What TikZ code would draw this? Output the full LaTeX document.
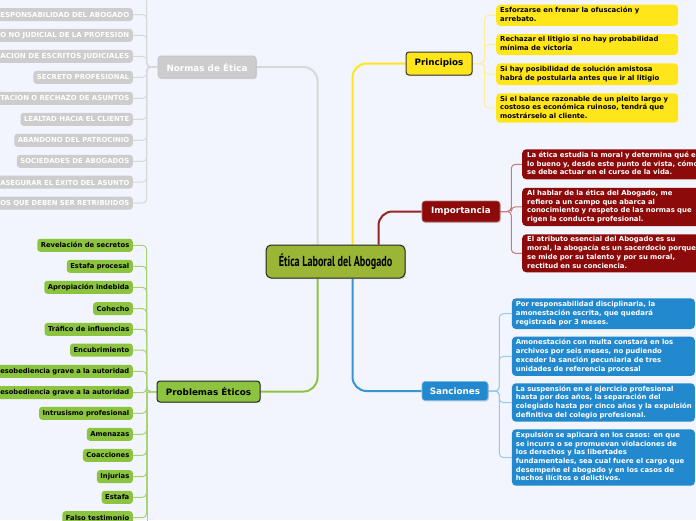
\documentclass[tikz,border=0pt]{standalone}
\usepackage{fontspec}
\usepackage{graphicx}
\usetikzlibrary{shadows}
\setmainfont{DejaVu Sans}
\newfontfamily\titlefont{PT Sans}
\newcommand\mylines[1]{\begin{tabular}{@{}l@{}}#1\end{tabular}}
\newcommand\cutfit[1]{\resizebox{129pt}{\height}{#1}}
\definecolor{bgc}{HTML}{F2F5FD}
\definecolor{greyfill}{HTML}{CDCDCD}
\definecolor{greyline}{HTML}{D8D8D8}
\definecolor{greenfill}{HTML}{8CC43F}
\definecolor{greenline}{HTML}{A9D272}
\definecolor{yelfill}{HTML}{FFE61A}
\definecolor{yelline}{HTML}{FFEE9A}
\definecolor{redfill}{HTML}{8C0A0A}
\definecolor{redline}{HTML}{C77A7A}
\definecolor{bluefill}{HTML}{2389CE}
\definecolor{blueline}{HTML}{9CC8EA}
\definecolor{centralfill}{HTML}{9BB535}
\pgfdeclarelayer{bgl}
\pgfdeclarelayer{lines}
\pgfsetlayers{bgl,lines,main}
\tikzset{
  small/.style={font=\fontsize{6.9}{8.7}\selectfont\bfseries},
  leafbox/.style={rounded corners=3pt, inner ysep=0pt, inner xsep=3.5pt, minimum height=13pt, anchor=east},
  normleaf/.style={leafbox, font=\fontsize{6.9}{8.7}\selectfont\bfseries, fill=greyfill, text=white},
  probleaf/.style={leafbox, font=\fontsize{6.8}{8.7}\selectfont\bfseries, fill=greenfill, text=black},
  cutleaf/.style={text width=152pt, align=right},
  textbox/.style={small, rounded corners=4pt, inner ysep=0pt, inner xsep=4pt, align=left, anchor=west},
  yelleaf/.style={textbox, fill=yelfill, text=black, text width=174pt},
  redleaf/.style={textbox, fill=redfill, text=white, text width=174pt, inner xsep=5pt},
  blueleaf/.style={textbox, fill=bluefill, text=white, text width=175pt},
  mainbox/.style={font=\fontsize{8.8}{10}\selectfont\bfseries, rounded corners=3pt, inner sep=0pt,
     drop shadow={opacity=0.25, shadow xshift=1pt, shadow yshift=-1.2pt}},
  mainline/.style={line width=2pt, rounded corners=14pt},
  childline/.style={line width=1pt, rounded corners=4pt},
}
\begin{document}
\begin{tikzpicture}[x=1pt,y=-1pt]
\useasboundingbox (0,0) rectangle (696,520);
\clip (0,0) rectangle (696,520);
\begin{pgfonlayer}{bgl}
\fill[bgc] (0,0) rectangle (696,520);
\end{pgfonlayer}

% central
\node[draw=black!85, line width=1pt, fill=centralfill, rounded corners=5pt, minimum width=139pt, minimum height=33pt, inner sep=0pt,
      drop shadow={opacity=0.25, shadow xshift=1pt, shadow yshift=-1.2pt}] (c) at (335.5,261.5)
  {\titlefont\bfseries\fontsize{14.5}{16}\selectfont\scalebox{0.7}[1]{Ética Laboral del Abogado}};

% main branches
\node[mainbox, draw=black!80, line width=1pt, fill=yelfill, minimum width=66pt, minimum height=23pt] (pr) at (439,63.5) {Principios};
\node[mainbox, draw=redfill!60, line width=0.6pt, fill=redfill, text=white, minimum width=78pt, minimum height=21pt] (im) at (461,211.5) {Importancia};
\node[mainbox, draw=bluefill!60, line width=0.6pt, fill=bluefill, text=white, minimum width=66pt, minimum height=19pt] (sa) at (455,391) {Sanciones};
\node[mainbox, draw=black!25, line width=0.6pt, fill=greyfill, text=white, minimum width=98pt, minimum height=22pt] (no) at (207,67) {Normas de Ética};
\node[mainbox, draw=black!85, line width=1pt, fill=greenfill, text=black, minimum width=103pt, minimum height=21pt] (pe) at (208.5,391.5) {Problemas Éticos};

\begin{pgfonlayer}{lines}
\coordinate (cg) at ([xshift=52pt]c.north west);
\coordinate (cy) at ([xshift=87pt]c.north west);
\coordinate (cr) at ([xshift=113pt]c.north west);
\coordinate (cb) at ([xshift=87pt]c.south west);
\coordinate (cgr) at ([xshift=52pt]c.south west);
\draw[mainline, greyline] (cg) |- (no.east);
\draw[mainline, yelfill] (cy) |- (pr.west);
\draw[mainline, redfill!90!white] (cr) |- (im.west);
\draw[mainline, bluefill!90!white] (cb) |- (sa.west);
\draw[mainline, greenfill] (cgr) |- (pe.east);
\end{pgfonlayer}

% Normas de Etica leaves
\node[normleaf, minimum width=83pt] (n0) at (133,-7) {};
\node[normleaf, cutleaf] (n1) at (133,14.7) {\cutfit{ESPONSABILIDAD DEL ABOGADO}};
\node[normleaf, cutleaf] (n2) at (133,35.3) {\cutfit{O NO JUDICIAL DE LA PROFESION}};
\node[normleaf, cutleaf] (n3) at (133,56.3) {\cutfit{ACION DE ESCRITOS JUDICIALES}};
\node[normleaf] (n4) at (133,77.3) {SECRETO PROFESIONAL};
\node[normleaf, cutleaf] (n5) at (133,98.3) {\cutfit{TACION O RECHAZO DE ASUNTOS}};
\node[normleaf] (n6) at (133,119.3) {LEALTAD HACIA EL CLIENTE};
\node[normleaf] (n7) at (133,140.3) {ABANDONO DEL PATROCINIO};
\node[normleaf] (n8) at (133,161.3) {SOCIEDADES DE ABOGADOS};
\node[normleaf, cutleaf] (n9) at (133,182) {\cutfit{ASEGURAR EL ÉXITO DEL ASUNTO}};
\node[normleaf, cutleaf] (n10) at (133,203) {\cutfit{OS QUE DEBEN SER RETRIBUIDOS}};
\begin{pgfonlayer}{lines}
\foreach \k in {0,...,10}{\draw[childline, greyline] (no.west) -- ++(-11,0) |- (n\k.east);}
\end{pgfonlayer}

% Problemas Eticos leaves
\node[probleaf] (e1) at (133,245.3) {Revelación de secretos};
\node[probleaf] (e2) at (133,266.3) {Estafa procesal};
\node[probleaf] (e3) at (133,287.3) {Apropiación indebida};
\node[probleaf] (e4) at (133,308.7) {Cohecho};
\node[probleaf] (e5) at (133,329.3) {Tráfico de influencias};
\node[probleaf] (e6) at (133,350) {Encubrimiento};
\node[probleaf, cutleaf] (e7) at (133,371.3) {\cutfit{esobediencia grave a la autoridad}};
\node[probleaf, cutleaf] (e8) at (133,392.7) {\cutfit{esobediencia grave a la autoridad}};
\node[probleaf] (e9) at (133,413.3) {Intrusismo profesional};
\node[probleaf] (e10) at (133,434.3) {Amenazas};
\node[probleaf] (e11) at (133,455.3) {Coacciones};
\node[probleaf] (e12) at (133,476.7) {Injurias};
\node[probleaf] (e13) at (133,497.3) {Estafa};
\node[probleaf] (e14) at (133,517.7) {Falso testimonio};
\begin{pgfonlayer}{lines}
\foreach \k in {1,...,14}{\draw[childline, greenline] (pe.west) -- ++(-10,0) |- (e\k.east);}
\draw[childline, greenline] (147,391.5) -- (147,530);
\end{pgfonlayer}

% Principios leaves
\node[yelleaf, minimum height=21.3pt] (p1) at (496,15.3) {\mylines{Esforzarse en frenar la ofuscación y\\arrebato.}};
\node[yelleaf, minimum height=21pt] (p2) at (496,44.5) {\mylines{Rechazar el litigio si no hay probabilidad\\mínima de victoria}};
\node[yelleaf, minimum height=21.7pt] (p3) at (496,74.2) {\mylines{Si hay posibilidad de solución amistosa\\habrá de postularla antes que ir al litigio}};
\node[yelleaf, minimum height=29.4pt] (p4) at (496,108) {\mylines{Si el balance razonable de un pleito largo y\\costoso es económica ruinoso, tendrá que\\mostrárselo al cliente.}};
\begin{pgfonlayer}{lines}
\foreach \k in {1,...,4}{\draw[childline, yelline] (pr.east) -- ++(12,0) |- (p\k.west);}
\end{pgfonlayer}

% Importancia leaves
\node[redleaf, minimum height=30pt] (i1) at (522,164.3) {\mylines{La ética estudia la moral y determina qué es\\lo bueno y, desde este punto de vista, cómo\\se debe actuar en el curso de la vida.}};
\node[redleaf, minimum height=38.3pt] (i2) at (522,206.9) {\mylines{Al hablar de la ética del Abogado, me\\refiero a un campo que abarca al\\conocimiento y respeto de las normas que\\rigen la conducta profesional.}};
\node[redleaf, minimum height=38pt] (i3) at (522,253.3) {\mylines{El atributo esencial del Abogado es su\\moral, la abogacía es un sacerdocio porque\\se mide por su talento y por su moral,\\rectitud en su conciencia.}};
\begin{pgfonlayer}{lines}
\foreach \k in {1,...,3}{\draw[childline, redline] (im.east) -- ++(11,0) |- (i\k.west);}
\end{pgfonlayer}

% Sanciones leaves
\node[blueleaf, minimum height=30.7pt] (s1) at (511.7,313.7) {\mylines{Por responsabilidad disciplinaria, la\\amonestación escrita, que quedará\\registrada por 3 meses.}};
\node[blueleaf, minimum height=39.3pt] (s2) at (511.7,356.3) {\mylines{Amonestación con multa constará en los\\archivos por seis meses, no pudiendo\\exceder la sanción pecuniaria de tres\\unidades de referencia procesal}};
\node[blueleaf, minimum height=38.4pt] (s3) at (511.7,402.5) {\mylines{La suspensión en el ejercicio profesional\\hasta por dos años, la separación del\\colegiado hasta por cinco años y la expulsión\\definitiva del colegio profesional.}};
\node[blueleaf, minimum height=56.4pt] (s4) at (511.7,457.5) {\mylines{Expulsión se aplicará en los casos: en que\\se incurra o se promuevan violaciones de\\los derechos y las libertades\\fundamentales, sea cual fuere el cargo que\\desempeñe el abogado y en los casos de\\hechos ilícitos o delictivos.}};
\begin{pgfonlayer}{lines}
\foreach \k in {1,...,4}{\draw[childline, blueline] (sa.east) -- ++(11,0) |- (s\k.west);}
\end{pgfonlayer}
\end{tikzpicture}
\end{document}
